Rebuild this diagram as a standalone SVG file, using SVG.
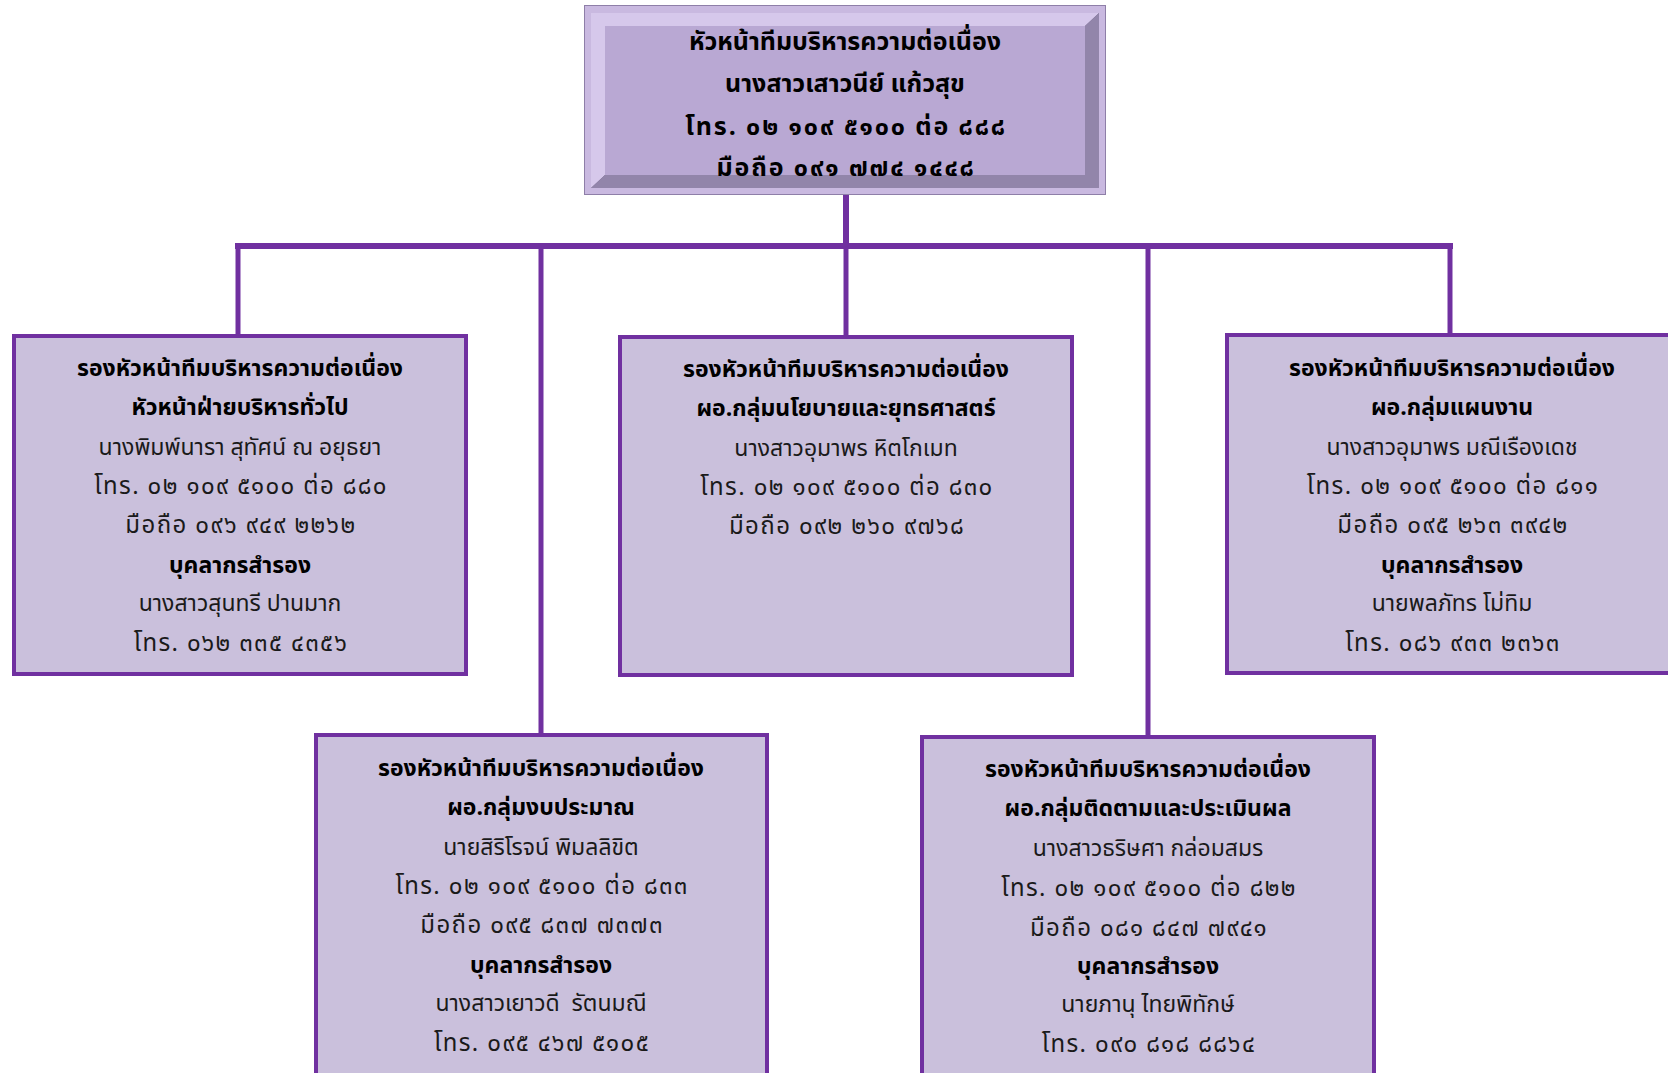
<svg xmlns="http://www.w3.org/2000/svg" width="1668" height="1073" viewBox="0 0 1668 1073">
<style>
.box{fill:#CAC0DC;stroke:#7030A0;stroke-width:4}
.t{font-family:"Noto Sans Thai","Tahoma","Leelawadee UI","DejaVu Sans",sans-serif;font-size:23px;text-anchor:middle;fill:#1a1a1a}
.b{font-weight:bold;fill:#000}
.p{font-size:24px;letter-spacing:1.4px}
.h{font-size:25px}
.hp{letter-spacing:1.9px}
.ln{stroke:#7030A0;fill:none}
</style>
<rect width="1668" height="1073" fill="#fff"/>
<g id="connectors">
<line class="ln" x1="846" y1="194" x2="846" y2="246" stroke-width="6"/>
<line class="ln" x1="235" y1="246" x2="1453" y2="246" stroke-width="6"/>
<line class="ln" x1="238" y1="246" x2="238" y2="335" stroke-width="5"/>
<line class="ln" x1="541" y1="246" x2="541" y2="734" stroke-width="5"/>
<line class="ln" x1="846" y1="246" x2="846" y2="336" stroke-width="5"/>
<line class="ln" x1="1148" y1="246" x2="1148" y2="736" stroke-width="5"/>
<line class="ln" x1="1450" y1="246" x2="1450" y2="334" stroke-width="5"/>
</g>
<g id="head">
<rect x="584.5" y="5.5" width="521" height="189" fill="#C9B9E0" stroke="#8E7FA8" stroke-width="1"/>
<rect x="591" y="13" width="508" height="175" fill="#6E6282"/>
<polygon points="591,13 1099,13 1085,26 605,26 605,175 591,188" fill="#D6C8EB"/>
<polygon points="1099,13 1099,188 591,188 605,175 1085,175 1085,26" fill="#9285AA"/>
<rect x="605" y="26" width="480" height="149" fill="#B9A8D3"/>
<text class="t b h" x="845" y="50">หัวหน้าทีมบริหารความต่อเนื่อง</text>
<text class="t b h" x="845" y="92">นางสาวเสาวนีย์ แก้วสุข</text>
<text class="t b h hp" x="846" y="135">โทร. ๐๒ ๑๐๙ ๕๑๐๐ ต่อ ๘๘๘</text>
<text class="t b h hp" x="846" y="176">มือถือ ๐๙๑ ๗๗๔ ๑๔๔๘</text>
</g>
<g id="n1">
<rect class="box" x="14" y="336" width="452" height="338"/>
<text class="t b" x="240" y="376">รองหัวหน้าทีมบริหารความต่อเนื่อง</text>
<text class="t b" x="240" y="415">หัวหน้าฝ่ายบริหารทั่วไป</text>
<text class="t" x="240" y="455">นางพิมพ์นารา สุทัศน์ ณ อยุธยา</text>
<text class="t p" x="241" y="494">โทร. ๐๒ ๑๐๙ ๕๑๐๐ ต่อ ๘๘๐</text>
<text class="t p" x="241" y="533">มือถือ ๐๙๖ ๙๔๙ ๒๒๖๒</text>
<text class="t b" x="240" y="573">บุคลากรสำรอง</text>
<text class="t" x="240" y="611">นางสาวสุนทรี ปานมาก</text>
<text class="t p" x="241" y="651">โทร. ๐๖๒ ๓๓๕ ๔๓๕๖</text>
</g>
<g id="n2">
<rect class="box" x="620" y="337" width="452" height="338"/>
<text class="t b" x="846" y="377">รองหัวหน้าทีมบริหารความต่อเนื่อง</text>
<text class="t b" x="846" y="416">ผอ.กลุ่มนโยบายและยุทธศาสตร์</text>
<text class="t" x="846" y="456">นางสาวอุมาพร หิตโกเมท</text>
<text class="t p" x="847" y="495">โทร. ๐๒ ๑๐๙ ๕๑๐๐ ต่อ ๘๓๐</text>
<text class="t p" x="847" y="534">มือถือ ๐๙๒ ๒๖๐ ๙๗๖๘</text>
</g>
<g id="n3">
<rect class="box" x="1227" y="335" width="452" height="338"/>
<text class="t b" x="1452" y="376">รองหัวหน้าทีมบริหารความต่อเนื่อง</text>
<text class="t b" x="1452" y="415">ผอ.กลุ่มแผนงาน</text>
<text class="t" x="1452" y="455">นางสาวอุมาพร มณีเรืองเดช</text>
<text class="t p" x="1453" y="494">โทร. ๐๒ ๑๐๙ ๕๑๐๐ ต่อ ๘๑๑</text>
<text class="t p" x="1453" y="533">มือถือ ๐๙๕ ๒๖๓ ๓๙๔๒</text>
<text class="t b" x="1452" y="573">บุคลากรสำรอง</text>
<text class="t" x="1452" y="611">นายพลภัทร โม่ทิม</text>
<text class="t p" x="1453" y="651">โทร. ๐๘๖ ๙๓๓ ๒๓๖๓</text>
</g>
<g id="n4">
<rect class="box" x="316" y="735" width="451" height="345"/>
<text class="t b" x="541" y="776">รองหัวหน้าทีมบริหารความต่อเนื่อง</text>
<text class="t b" x="541" y="815">ผอ.กลุ่มงบประมาณ</text>
<text class="t" x="541" y="855">นายสิริโรจน์ พิมลลิขิต</text>
<text class="t p" x="542" y="894">โทร. ๐๒ ๑๐๙ ๕๑๐๐ ต่อ ๘๓๓</text>
<text class="t p" x="542" y="933">มือถือ ๐๙๕ ๘๓๗ ๗๓๗๓</text>
<text class="t b" x="541" y="973">บุคลากรสำรอง</text>
<text class="t" x="541" y="1011" xml:space="preserve" style="white-space:pre">นางสาวเยาวดี  รัตนมณี</text>
<text class="t p" x="542" y="1051">โทร. ๐๙๕ ๔๖๗ ๕๑๐๕</text>
</g>
<g id="n5">
<rect class="box" x="922" y="737" width="452" height="345"/>
<text class="t b" x="1148" y="777">รองหัวหน้าทีมบริหารความต่อเนื่อง</text>
<text class="t b" x="1148" y="816">ผอ.กลุ่มติดตามและประเมินผล</text>
<text class="t" x="1148" y="856">นางสาวธริษศา กล่อมสมร</text>
<text class="t p" x="1149" y="896">โทร. ๐๒ ๑๐๙ ๕๑๐๐ ต่อ ๘๒๒</text>
<text class="t p" x="1149" y="936">มือถือ ๐๘๑ ๘๔๗ ๗๙๔๑</text>
<text class="t b" x="1148" y="974">บุคลากรสำรอง</text>
<text class="t" x="1148" y="1012">นายภานุ ไทยพิทักษ์</text>
<text class="t p" x="1149" y="1052">โทร. ๐๙๐ ๘๑๘ ๘๘๖๔</text>
</g>
</svg>
